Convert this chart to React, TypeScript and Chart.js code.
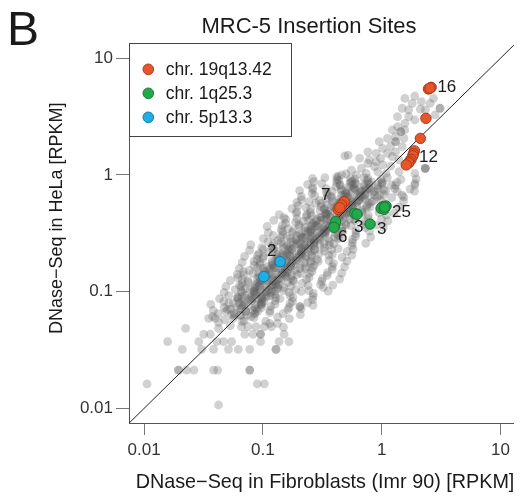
import React, { useEffect, useRef } from "react";
import { Chart, registerables } from "chart.js";

Chart.register(...registerables);

type P = [number, number];

const FONT = "'Liberation Sans', Arial, Helvetica, sans-serif";

const titleText = "MRC-5 Insertion Sites";
const panelLetter = "B";
const xAxisTitle = "DNase\u2212Seq in Fibroblasts (Imr 90) [RPKM]";
const yAxisTitle = "DNase\u2212Seq in HeLa [RPKM]";

const xTickValues = [0.01, 0.1, 1, 10];
const xTickLabels = ["0.01", "0.1", "1", "10"];
const yTickValues = [0.01, 0.1, 1, 10];
const yTickLabels = ["0.01", "0.1", "1", "10"];

const seriesNames = ["chr. 19q13.42", "chr. 1q25.3", "chr. 5p13.3"];

const chr19Points: P[] = [
  [2.48, 5.46], [2.61, 5.64], [2.55, 5.55], [2.36, 3.06], [2.12, 2.06],
  [1.89, 1.61], [1.85, 1.52], [1.83, 1.46], [1.77, 1.36], [1.72, 1.31], [1.69, 1.27], [1.61, 1.22],
  [0.484, 0.59], [0.46, 0.553], [0.431, 0.508], [0.445, 0.525],
];
const chr1Points: P[] = [
  [1.02, 0.535], [1.09, 0.542], [0.99, 0.519], [1.05, 0.508], [1.06, 0.53],
  [0.593, 0.47], [0.621, 0.46], [0.8, 0.38],
  [0.404, 0.373], [0.41, 0.398], [0.397, 0.356],
];
const chr5Points: P[] = [[0.14, 0.181], [0.102, 0.1346]];

const identityLine: P[] = [[0.001, 0.001], [100, 100]];

const pointLabels = [
  { text: "16", x: 3.54, y: 5.66 },
  { text: "12", x: 2.48, y: 1.41 },
  { text: "7", x: 0.339, y: 0.67 },
  { text: "25", x: 1.468, y: 0.482 },
  { text: "3", x: 0.643, y: 0.355 },
  { text: "3", x: 1.0, y: 0.343 },
  { text: "6", x: 0.471, y: 0.291 },
  { text: "2", x: 0.119, y: 0.222 },
];

const grayUpper: P[] = [
  [1.57, 4.54], [1.9, 4.75], [1.81, 4.11], [2.16, 4.25], [2.73, 4.54], [2.56, 4.11], [3.1, 3.73], [3.1, 3.73],
  [1.49, 3.73], [1.69, 3.61], [2.12, 3.66], [2.33, 3.61], [1.36, 3.16], [1.69, 3.16], [1.9, 2.96], [2.82, 3.27],
  [1.57, 2.77], [1.36, 2.59], [1.23, 2.43], [1.45, 2.35], [1.45, 2.35], [1.57, 2.43], [1.54, 2.06], [1.31, 2.13],
  [1.12, 2.06], [0.955, 1.93], [1.31, 1.93], [1.31, 1.93], [1.49, 1.75], [1.19, 1.77], [1.02, 1.69], [0.766, 1.58],
  [0.898, 1.53], [1.12, 1.53], [1.31, 1.58], [0.98, 1.39], [1.23, 1.44], [1.4, 1.35], [0.49, 1.46], [0.522, 1.48],
  [0.652, 1.39], [0.789, 1.35], [1.02, 1.22], [0.869, 1.18], [1.19, 1.19], [0.675, 1.14], [0.557, 1.1], [0.461, 1.0],
  [0.613, 1.0], [0.741, 1.03], [0.927, 1.07], [1.09, 1.03], [1.4, 1.07], [2.33, 1.14], [2.33, 1.14], [2.33, 1.14],
  [1.9, 1.03], [0.419, 0.966], [0.766, 1.26], [0.898, 1.3], [0.432, 0.966], [0.502, 1.02],
];

const grayCore: P[] = [
  [0.262, 0.933], [0.269, 0.879], [0.333, 0.951], [0.419, 0.861], [0.42, 0.915], [0.542, 0.852], [0.595, 0.924], [0.757, 0.897], [0.765, 0.933], [1.016, 0.879], [1.117, 0.951], [1.34, 0.861], [1.454, 0.915], [1.908, 0.852], [1.952, 0.924], [0.435, 0.897], [0.546, 0.933], [0.549, 0.879], [0.708, 0.951], [0.776, 0.861], [0.988, 0.915], [0.999, 0.852],
  [0.238, 0.829], [0.262, 0.781], [0.314, 0.845], [0.341, 0.765], [0.447, 0.813], [0.458, 0.757], [0.568, 0.821], [0.714, 0.797], [0.716, 0.829], [0.924, 0.781], [1.014, 0.845], [1.29, 0.765], [1.305, 0.813], [1.735, 0.757], [1.905, 0.821], [0.411, 0.797], [0.446, 0.829], [0.584, 0.781], [0.598, 0.845], [0.741, 0.765], [0.933, 0.813], [0.936, 0.757], [1.207, 0.821],
  [0.204, 0.736], [0.26, 0.694], [0.263, 0.751], [0.35, 0.679], [0.384, 0.722], [0.461, 0.672], [0.5, 0.729], [0.656, 0.708], [0.671, 0.736], [0.831, 0.694], [1.045, 0.751], [1.049, 0.679], [1.353, 0.722], [1.485, 0.672], [1.89, 0.729], [0.343, 0.708], [0.457, 0.736], [0.501, 0.694], [0.602, 0.751], [0.653, 0.679], [0.856, 0.722], [0.876, 0.672], [1.086, 0.729],
  [0.211, 0.654], [0.211, 0.616], [0.273, 0.667], [0.299, 0.603], [0.381, 0.641], [0.385, 0.597], [0.511, 0.648], [0.562, 0.629], [0.674, 0.654], [0.732, 0.616], [0.96, 0.667], [0.982, 0.603], [1.217, 0.641], [1.531, 0.597], [1.536, 0.648], [0.343, 0.629], [0.376, 0.654], [0.479, 0.616], [0.484, 0.667], [0.644, 0.603], [0.707, 0.641], [0.848, 0.597], [0.92, 0.648],
  [0.193, 0.581], [0.198, 0.547], [0.245, 0.592], [0.309, 0.536], [0.31, 0.57], [0.4, 0.53], [0.438, 0.575], [0.558, 0.558], [0.564, 0.581], [0.75, 0.547], [0.823, 0.592], [0.987, 0.536], [1.072, 0.57], [1.406, 0.53], [0.279, 0.575], [0.346, 0.558], [0.435, 0.581], [0.436, 0.547], [0.562, 0.592], [0.617, 0.536], [0.785, 0.57], [0.795, 0.53],
  [0.1758, 0.516], [0.193, 0.486], [0.2315, 0.526], [0.2518, 0.476], [0.3296, 0.506], [0.3375, 0.471], [0.418, 0.511], [0.526, 0.496], [0.528, 0.516], [0.681, 0.486], [0.747, 0.526], [0.951, 0.476], [0.961, 0.506], [1.278, 0.471], [0.2525, 0.511], [0.303, 0.496], [0.3287, 0.516], [0.431, 0.486], [0.441, 0.526], [0.546, 0.476], [0.687, 0.506], [0.689, 0.471],
  [0.1372, 0.458], [0.1504, 0.432], [0.1915, 0.467], [0.1937, 0.423], [0.2573, 0.449], [0.2831, 0.418], [0.3397, 0.454], [0.3686, 0.441], [0.4836, 0.458], [0.4944, 0.432], [0.613, 0.467], [0.771, 0.423], [0.773, 0.449], [0.997, 0.418], [1.094, 0.454], [0.2321, 0.441], [0.2346, 0.458], [0.3119, 0.432], [0.3425, 0.467], [0.411, 0.423], [0.4456, 0.449], [0.584, 0.418], [0.598, 0.454],
  [0.1234, 0.408], [0.1552, 0.384], [0.1557, 0.416], [0.2009, 0.376], [0.2202, 0.4], [0.2809, 0.372], [0.2834, 0.404], [0.377, 0.392], [0.4138, 0.408], [0.4967, 0.384], [0.5396, 0.416], [0.7073, 0.376], [0.7238, 0.4], [0.897, 0.372], [1.129, 0.404], [0.1888, 0.392], [0.2431, 0.408], [0.2668, 0.384], [0.3392, 0.416], [0.3432, 0.376], [0.4568, 0.4], [0.5009, 0.372], [0.6018, 0.404],
  [0.1086, 0.362], [0.1425, 0.34], [0.1458, 0.369], [0.1807, 0.333], [0.2273, 0.355], [0.2279, 0.33], [0.2946, 0.358], [0.323, 0.347], [0.4113, 0.362], [0.4158, 0.34], [0.5523, 0.369], [0.6069, 0.333], [0.7283, 0.355], [0.7895, 0.33], [1.036, 0.358], [0.1636, 0.347], [0.203, 0.362], [0.2549, 0.34], [0.2558, 0.369], [0.3296, 0.333], [0.3618, 0.355], [0.4611, 0.33], [0.4655, 0.358],
  [0.1112, 0.321], [0.1222, 0.303], [0.1466, 0.328], [0.159, 0.296], [0.2087, 0.315], [0.2134, 0.293], [0.265, 0.318], [0.3326, 0.309], [0.3339, 0.321], [0.4305, 0.303], [0.4724, 0.328], [0.6021, 0.296], [0.6081, 0.315], [0.8085, 0.293], [0.1475, 0.309], [0.1775, 0.321], [0.1929, 0.303], [0.2525, 0.328], [0.2585, 0.296], [0.32, 0.315], [0.4028, 0.293], [0.4046, 0.318],
  [0.101, 0.285], [0.1109, 0.269], [0.1412, 0.291], [0.1427, 0.263], [0.1897, 0.28], [0.2084, 0.26], [0.2499, 0.283], [0.2717, 0.274], [0.3563, 0.285], [0.3647, 0.269], [0.452, 0.291], [0.5681, 0.263], [0.5701, 0.28], [0.7354, 0.26], [0.1339, 0.274], [0.1707, 0.285], [0.173, 0.269], [0.23, 0.291], [0.2525, 0.263], [0.3029, 0.28], [0.3287, 0.26], [0.4312, 0.283],
  [0.0792, 0.253], [0.0981, 0.239], [0.1234, 0.258], [0.1239, 0.234], [0.1598, 0.248], [0.1753, 0.231], [0.2231, 0.251], [0.2254, 0.244], [0.3003, 0.253], [0.3297, 0.239], [0.3958, 0.258], [0.4294, 0.234], [0.5628, 0.248], [0.5762, 0.231], [0.119, 0.244], [0.149, 0.253], [0.1497, 0.239], [0.1936, 0.258], [0.2124, 0.234], [0.2703, 0.248], [0.2732, 0.231], [0.3633, 0.251],
  [0.0773, 0.226], [0.0927, 0.212], [0.1006, 0.23], [0.132, 0.208], [0.1351, 0.221], [0.1674, 0.206], [0.2106, 0.223], [0.2111, 0.217], [0.273, 0.226], [0.2988, 0.212], [0.3805, 0.23], [0.3846, 0.208], [0.5114, 0.221], [0.5623, 0.206], [0.1122, 0.217], [0.1216, 0.226], [0.1594, 0.212], [0.1636, 0.23], [0.203, 0.208], [0.2549, 0.221], [0.2558, 0.206], [0.3296, 0.223],
  [0.0701, 0.201], [0.0894, 0.189], [0.0903, 0.205], [0.12, 0.185], [0.1319, 0.197], [0.1582, 0.183], [0.1717, 0.199], [0.2252, 0.193], [0.2303, 0.201], [0.286, 0.189], [0.3596, 0.205], [0.3608, 0.185], [0.4656, 0.197], [0.5102, 0.183], [0.1001, 0.193], [0.1012, 0.201], [0.1344, 0.189], [0.1475, 0.205], [0.1775, 0.185], [0.1929, 0.197], [0.2525, 0.183], [0.2585, 0.199],
  [0.067, 0.178], [0.0843, 0.168], [0.0845, 0.182], [0.1091, 0.164], [0.1197, 0.175], [0.1523, 0.163], [0.154, 0.176], [0.2048, 0.171], [0.2247, 0.178], [0.2703, 0.168], [0.2926, 0.182], [0.3841, 0.164], [0.3929, 0.175], [0.487, 0.163], [0.0946, 0.171], [0.0949, 0.178], [0.1226, 0.168], [0.1339, 0.182], [0.1707, 0.164], [0.173, 0.175], [0.23, 0.163], [0.2525, 0.176],
  [0.0633, 0.158], [0.0687, 0.149], [0.0902, 0.161], [0.0922, 0.146], [0.1143, 0.155], [0.1439, 0.144], [0.1442, 0.157], [0.1861, 0.152], [0.2042, 0.158], [0.2597, 0.149], [0.2631, 0.161], [0.3497, 0.146], [0.3841, 0.155], [0.461, 0.144], [0.077, 0.152], [0.101, 0.158], [0.1034, 0.149], [0.128, 0.161], [0.1609, 0.146], [0.1618, 0.155], [0.2091, 0.144], [0.2289, 0.157],
  [0.061, 0.1405], [0.0616, 0.1323], [0.082, 0.1432], [0.09, 0.1296], [0.108, 0.1378], [0.1172, 0.1282], [0.1538, 0.1391], [0.1574, 0.135], [0.195, 0.1405], [0.2452, 0.1323], [0.2465, 0.1432], [0.3172, 0.1296], [0.3482, 0.1378], [0.4431, 0.1282], [0.0691, 0.1391], [0.092, 0.135], [0.101, 0.1405], [0.1214, 0.1323], [0.1311, 0.1432], [0.1723, 0.1296], [0.1767, 0.1378],
  [0.0533, 0.1248], [0.0671, 0.1176], [0.0672, 0.1273], [0.0868, 0.1151], [0.0952, 0.1224], [0.1212, 0.1139], [0.1225, 0.1236], [0.1629, 0.12], [0.1789, 0.1248], [0.2147, 0.1176], [0.2328, 0.1273], [0.306, 0.1151], [0.313, 0.1224], [0.388, 0.1139], [0.0752, 0.1236], [0.0754, 0.12], [0.0972, 0.1248], [0.1067, 0.1176], [0.1357, 0.1273], [0.1371, 0.1151], [0.1827, 0.1224],
  [0.0489, 0.1108], [0.0587, 0.1044], [0.0637, 0.113], [0.0836, 0.1022], [0.0854, 0.1087], [0.1059, 0.1011], [0.1333, 0.1098], [0.1336, 0.1065], [0.1724, 0.1108], [0.1892, 0.1044], [0.2406, 0.113], [0.2438, 0.1022], [0.3234, 0.1087], [0.3554, 0.1011], [0.0658, 0.1098], [0.0713, 0.1065], [0.0937, 0.1108], [0.0959, 0.1044], [0.119, 0.113], [0.149, 0.1022], [0.1497, 0.1087],
  [0.0472, 0.0985], [0.0517, 0.0927], [0.0658, 0.1004], [0.0665, 0.0908], [0.0885, 0.0966], [0.0971, 0.0899], [0.1166, 0.0975], [0.1265, 0.0946], [0.166, 0.0985], [0.1699, 0.0927], [0.2105, 0.1004], [0.2646, 0.0908], [0.266, 0.0966], [0.0615, 0.0899], [0.0675, 0.0975], [0.086, 0.0946], [0.0868, 0.0985], [0.1155, 0.0927], [0.1267, 0.1004],
  [0.0432, 0.0874], [0.0469, 0.0824], [0.0615, 0.0891], [0.063, 0.0807], [0.0781, 0.0857], [0.0982, 0.0798], [0.0985, 0.0866], [0.1271, 0.084], [0.1394, 0.0874], [0.1774, 0.0824], [0.1794, 0.0891], [0.2384, 0.0807], [0.2624, 0.0857], [0.0565, 0.0798], [0.0613, 0.0866], [0.0804, 0.084], [0.0823, 0.0874], [0.102, 0.0824], [0.1285, 0.0891],
  [0.0365, 0.0778], [0.0472, 0.0732], [0.0517, 0.0793], [0.0658, 0.0717], [0.0665, 0.0763], [0.0885, 0.071], [0.0971, 0.077], [0.1166, 0.0747], [0.1265, 0.0778], [0.166, 0.0732], [0.1699, 0.0793], [0.2105, 0.0717], [0.2646, 0.0763], [0.0535, 0.071], [0.069, 0.077], [0.0758, 0.0747], [0.0964, 0.0778], [0.0974, 0.0732],
  [0.0382, 0.069], [0.042, 0.065], [0.0504, 0.0704], [0.0546, 0.0637], [0.0717, 0.0677], [0.0734, 0.063], [0.0909, 0.0683], [0.1144, 0.0663], [0.1148, 0.069], [0.148, 0.065], [0.1624, 0.0704], [0.2067, 0.0637], [0.049, 0.0677], [0.0652, 0.063], [0.0716, 0.0683], [0.086, 0.0663],
  [0.0378, 0.0613], [0.0476, 0.0577], [0.0575, 0.0625], [0.0696, 0.0565], [0.0843, 0.0601], [0.1059, 0.0559], [0.1332, 0.0607], [0.1674, 0.0589],
  [0.0424, 0.0545], [0.0533, 0.0513], [0.067, 0.0555], [0.0876, 0.0503], [0.1143, 0.0534], [0.149, 0.0497],
];

const grayInner: P[] = [
  [0.568, 0.88], [0.611, 0.845], [0.785, 0.828], [0.821, 0.871],
  [0.526, 0.782], [0.583, 0.751], [0.728, 0.736], [0.783, 0.774],
  [0.497, 0.694], [0.519, 0.667], [0.649, 0.654], [0.719, 0.687],
  [0.443, 0.617], [0.477, 0.593], [0.614, 0.581], [0.64, 0.611],
  [0.38, 0.548], [0.422, 0.527], [0.526, 0.516], [0.566, 0.543],
  [0.353, 0.486], [0.369, 0.467], [0.461, 0.458], [0.51, 0.481],
  [0.303, 0.433], [0.325, 0.416], [0.419, 0.407], [0.437, 0.428],
  [0.26, 0.384], [0.288, 0.369], [0.36, 0.362], [0.387, 0.38],
  [0.241, 0.341], [0.252, 0.328], [0.314, 0.321], [0.348, 0.338],
  [0.207, 0.303], [0.222, 0.291], [0.286, 0.285], [0.298, 0.3],
  [0.181, 0.269], [0.2, 0.258], [0.25, 0.253], [0.269, 0.266],
  [0.167, 0.239], [0.175, 0.23], [0.219, 0.225], [0.2425, 0.237],
  [0.1466, 0.2127], [0.1576, 0.2044], [0.2028, 0.2003], [0.2118, 0.2106],
  [0.1283, 0.1895], [0.1421, 0.1822], [0.1774, 0.1785], [0.191, 0.1877],
  [0.1188, 0.1679], [0.1242, 0.1614], [0.1552, 0.1581], [0.1717, 0.1663],
  [0.106, 0.1491], [0.114, 0.1434], [0.1467, 0.1405], [0.153, 0.1477],
  [0.0946, 0.1325], [0.1048, 0.1273], [0.1308, 0.1247], [0.1406, 0.1312],
  [0.0894, 0.1177], [0.0932, 0.1132], [0.1166, 0.1109], [0.1292, 0.1166],
  [0.0781, 0.1045], [0.0841, 0.1005], [0.108, 0.0985], [0.1128, 0.1035],
  [0.071, 0.0929], [0.0787, 0.0893], [0.0982, 0.0875], [0.1056, 0.092],
  [0.0671, 0.0824], [0.07, 0.0792], [0.0876, 0.0776], [0.097, 0.0816],
  [0.0598, 0.0733], [0.0643, 0.0705], [0.0828, 0.0691], [0.0864, 0.0726],
  [0.0575, 0.0651], [0.0638, 0.0626], [0.0797, 0.0613], [0.0857, 0.0645],
];

const grayDense: P[] = [
  [0.5676, 0.74], [0.674, 0.725], [0.8, 0.755],
  [0.516, 0.657], [0.6126, 0.644], [0.727, 0.67],
  [0.4515, 0.584], [0.536, 0.572], [0.636, 0.596],
  [0.403, 0.519], [0.478, 0.509], [0.5676, 0.529],
  [0.352, 0.461], [0.4183, 0.452], [0.497, 0.47],
  [0.3083, 0.41], [0.366, 0.402], [0.435, 0.418],
  [0.275, 0.363], [0.3265, 0.356], [0.3876, 0.37],
  [0.2406, 0.323], [0.2856, 0.317], [0.339, 0.329],
  [0.2146, 0.287], [0.2547, 0.281], [0.3024, 0.293],
  [0.1913, 0.2546], [0.2272, 0.2495], [0.2697, 0.2597],
  [0.1706, 0.2267], [0.2026, 0.2222], [0.2406, 0.2312],
  [0.1522, 0.2018], [0.1807, 0.1978], [0.2146, 0.2058],
  [0.1358, 0.179], [0.1611, 0.1754], [0.1913, 0.1826],
  [0.1234, 0.1589], [0.1465, 0.1557], [0.174, 0.1621],
  [0.1121, 0.1412], [0.1332, 0.1384], [0.158, 0.144],
  [0.1019, 0.1254], [0.121, 0.1229], [0.1437, 0.1279],
  [0.0909, 0.1114], [0.108, 0.1092], [0.1282, 0.1136],
  [0.0843, 0.0989], [0.1, 0.0969], [0.1187, 0.1009],
  [0.0766, 0.0879], [0.0909, 0.0861], [0.108, 0.0897],
];

const grayTail: P[] = [
  [0.0106, 0.0162], [0.0158, 0.0373], [0.0195, 0.0213], [0.0195, 0.0213], [0.0227, 0.0213], [0.0263, 0.0213],
  [0.0224, 0.0485], [0.021, 0.0321], [0.0289, 0.0373], [0.0305, 0.0321], [0.0318, 0.0432], [0.0361, 0.0432],
  [0.035, 0.0592], [0.0398, 0.0592], [0.0385, 0.0213], [0.0416, 0.0213], [0.0424, 0.0107], [0.0385, 0.0321],
  [0.041, 0.0373], [0.0424, 0.0485], [0.0467, 0.0373], [0.0546, 0.0373], [0.0513, 0.0321], [0.0621, 0.0321],
  [0.0776, 0.0213], [0.0776, 0.0213], [0.0898, 0.0162], [0.103, 0.0162], [0.0776, 0.0321], [0.0957, 0.0373],
  [0.129, 0.0321], [0.129, 0.0321], [0.137, 0.0373], [0.166, 0.0373], [0.151, 0.0432], [0.0957, 0.0432],
  [0.0957, 0.0432], [0.0705, 0.0432], [0.0826, 0.0432], [0.066, 0.0501], [0.075, 0.0501], [0.103, 0.0501],
  [0.118, 0.0501], [0.133, 0.0536], [0.0564, 0.0592], [0.205, 0.0745], [0.205, 0.0745],
];

const ORANGE = "#e9552a";
const ORANGE_EDGE = "#a83a18";
const GREEN = "#23a84a";
const GREEN_EDGE = "#167a33";
const BLUE = "#1eaee6";
const BLUE_EDGE = "#1478a8";
const GRAY = "rgba(88,88,88,0.28)";

const decorPlugin = {
  id: "decor",
  afterDraw(chart: any) {
    const { ctx, chartArea, scales } = chart;
    ctx.save();
    ctx.fillStyle = "#1a1a1a";
    ctx.font = `17px ${FONT}`;
    ctx.textAlign = "center";
    ctx.textBaseline = "middle";
    pointLabels.forEach((l) => {
      ctx.fillText(l.text, scales.x.getPixelForValue(l.x), scales.y.getPixelForValue(l.y));
    });

    const left = chartArea.left;
    const top = chartArea.top;
    ctx.fillStyle = "#ffffff";
    ctx.fillRect(left + 0.5, top + 0.5, 162, 93);
    ctx.strokeStyle = "#444";
    ctx.lineWidth = 1;
    ctx.strokeRect(left + 0.5, top + 0.5, 162, 93);
    ctx.font = `17.5px ${FONT}`;
    ctx.textAlign = "left";
    ctx.textBaseline = "middle";
    for (let i = 0; i < 3; i++) {
      const ds = chart.data.datasets[i];
      const cy = top + 26.3 + i * 24;
      ctx.beginPath();
      ctx.arc(left + 19.3, cy, 5.3, 0, Math.PI * 2);
      ctx.fillStyle = ds.backgroundColor;
      ctx.fill();
      ctx.strokeStyle = ds.borderColor;
      ctx.stroke();
      ctx.fillStyle = "#1a1a1a";
      ctx.fillText(ds.label, left + 36.7, cy + 0.5);
    }

    ctx.fillStyle = "#1a1a1a";
    ctx.textBaseline = "alphabetic";
    ctx.textAlign = "center";
    ctx.font = `22px ${FONT}`;
    ctx.fillText(titleText, 309, 32.5);
    ctx.textAlign = "left";
    ctx.font = `48px ${FONT}`;
    ctx.fillText(panelLetter, 7, 45);

    ctx.textAlign = "center";
    ctx.font = `19.8px ${FONT}`;
    ctx.fillText(xAxisTitle, 325, 487.5);
    ctx.translate(61.7, 218.3);
    ctx.rotate(-Math.PI / 2);
    ctx.font = `18px ${FONT}`;
    ctx.fillText(yAxisTitle, 0, 0);
    ctx.restore();
  },
};

export default function App() {
  const ref = useRef<HTMLCanvasElement>(null);

  useEffect(() => {
    const canvas = ref.current;
    if (!canvas) return;
    const toXY = (pts: P[]) => pts.map(([x, y]) => ({ x, y }));
    const grayAll = [...grayUpper, ...grayCore, ...grayInner, ...grayDense, ...grayTail];

    const chart = new Chart(canvas, {
      type: "scatter",
      data: {
        datasets: [
          { label: seriesNames[0], data: toXY(chr19Points), backgroundColor: ORANGE, borderColor: ORANGE_EDGE, borderWidth: 1, pointRadius: 5.2 },
          { label: seriesNames[1], data: toXY(chr1Points), backgroundColor: GREEN, borderColor: GREEN_EDGE, borderWidth: 1, pointRadius: 5.2 },
          { label: seriesNames[2], data: toXY(chr5Points), backgroundColor: BLUE, borderColor: BLUE_EDGE, borderWidth: 1, pointRadius: 5.2 },
          { label: "y = x", data: toXY(identityLine), showLine: true, borderColor: "#222", borderWidth: 1, pointRadius: 0, fill: false },
          { label: "all sites", data: toXY(grayAll), backgroundColor: GRAY, borderWidth: 0, pointRadius: 4.4 },
        ],
      },
      options: {
        responsive: false,
        animation: false,
        events: [],
        layout: { padding: { top: 43, left: 0, right: 0, bottom: 0 } },
        plugins: {
          legend: { display: false },
          tooltip: { enabled: false },
          title: { display: false },
        },
        scales: {
          x: {
            type: "logarithmic",
            position: "bottom",
            min: 0.00747,
            max: 12.96,
            afterFit: (s: any) => { s.height = 73; },
            afterBuildTicks: (s: any) => { s.ticks = xTickValues.map((value) => ({ value })); },
            ticks: {
              autoSkip: false,
              maxRotation: 0,
              padding: 5,
              color: "#333",
              font: { family: FONT, size: 17 },
              callback: (_v: any, i: number) => xTickLabels[i],
            },
            grid: { display: true, drawOnChartArea: false, drawTicks: true, tickLength: 12, color: "#777" },
            border: { display: true, color: "#555", width: 1 },
          },
          y: {
            type: "logarithmic",
            position: "left",
            min: 0.0075,
            max: 13.52,
            afterFit: (s: any) => { s.width = 129; },
            afterBuildTicks: (s: any) => { s.ticks = yTickValues.map((value) => ({ value })); },
            ticks: {
              autoSkip: false,
              padding: 3,
              color: "#333",
              font: { family: FONT, size: 17 },
              callback: (_v: any, i: number) => yTickLabels[i],
            },
            grid: { display: true, drawOnChartArea: false, drawTicks: true, tickLength: 13, color: "#777" },
            border: { display: true, color: "#555", width: 1 },
          },
        },
      },
      plugins: [decorPlugin],
    } as any);

    return () => chart.destroy();
  }, []);

  return (
    <div style={{ position: "fixed", left: 0, top: 0, width: 520, height: 496, background: "#fff" }}>
      <canvas ref={ref} width={520} height={496} style={{ display: "block" }} />
    </div>
  );
}
